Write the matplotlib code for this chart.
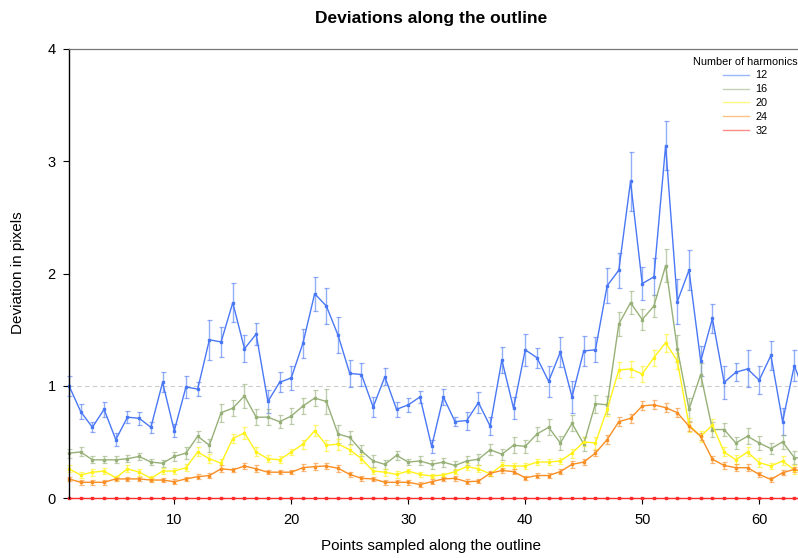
import numpy as np
import matplotlib
matplotlib.use('Agg')
import matplotlib.pyplot as plt
from matplotlib.lines import Line2D

plt.rcParams['font.family'] = ['Liberation Sans', 'DejaVu Sans']

# points along the outline
points = list(range(1, 65))

harmonics = ['12', '16', '20', '24', '32']

dev_12 = [1.00, 0.77, 0.63, 0.79, 0.52, 0.72, 0.71, 0.63, 1.03, 0.60,
          0.99, 0.97, 1.41, 1.39, 1.74, 1.33, 1.46, 0.86, 1.03, 1.07,
          1.38, 1.82, 1.71, 1.45, 1.11, 1.10, 0.81, 1.08, 0.79, 0.83,
          0.90, 0.46, 0.90, 0.68, 0.69, 0.85, 0.64, 1.23, 0.80, 1.32,
          1.25, 1.04, 1.30, 0.90, 1.31, 1.32, 1.89, 2.03, 2.82, 1.91,
          1.97, 3.14, 1.75, 2.03, 1.22, 1.60, 1.03, 1.12, 1.15, 1.05,
          1.27, 0.68, 1.18, 0.90]
err_12 = [0.09, 0.07, 0.045, 0.067, 0.058, 0.055, 0.06, 0.05, 0.09, 0.06,
          0.10, 0.06, 0.18, 0.135, 0.175, 0.12, 0.10, 0.10, 0.09, 0.11,
          0.13, 0.15, 0.16, 0.16, 0.12, 0.10, 0.09, 0.075, 0.065, 0.06,
          0.055, 0.06, 0.075, 0.04, 0.08, 0.09, 0.08, 0.115, 0.10, 0.145,
          0.09, 0.14, 0.13, 0.145, 0.13, 0.11, 0.155, 0.155, 0.26, 0.15,
          0.165, 0.22, 0.20, 0.175, 0.13, 0.13, 0.15, 0.08, 0.165, 0.125,
          0.13, 0.12, 0.14, 0.10]

dev_16 = [0.40, 0.41, 0.34, 0.34, 0.34, 0.35, 0.37, 0.32, 0.31, 0.37,
          0.40, 0.55, 0.47, 0.76, 0.80, 0.91, 0.72, 0.72, 0.68, 0.73,
          0.82, 0.89, 0.86, 0.57, 0.54, 0.42, 0.33, 0.30, 0.38, 0.32,
          0.33, 0.30, 0.32, 0.29, 0.33, 0.345, 0.43, 0.39, 0.47, 0.46,
          0.57, 0.63, 0.49, 0.665, 0.48, 0.84, 0.83, 1.55, 1.74, 1.59,
          1.71, 2.07, 1.33, 0.79, 1.10, 0.61, 0.61, 0.49, 0.55, 0.49,
          0.44, 0.50, 0.36, 0.35]
err_16 = [0.04, 0.04, 0.03, 0.03, 0.03, 0.03, 0.03, 0.03, 0.03, 0.04,
          0.05, 0.05, 0.06, 0.08, 0.07, 0.11, 0.07, 0.07, 0.06, 0.07,
          0.07, 0.07, 0.11, 0.08, 0.06, 0.05, 0.05, 0.04, 0.04, 0.03,
          0.04, 0.04, 0.04, 0.04, 0.04, 0.05, 0.05, 0.05, 0.07, 0.06,
          0.06, 0.07, 0.06, 0.07, 0.06, 0.08, 0.08, 0.11, 0.10, 0.09,
          0.10, 0.15, 0.12, 0.10, 0.10, 0.07, 0.06, 0.05, 0.07, 0.06,
          0.05, 0.06, 0.06, 0.05]

dev_20 = [0.26, 0.205, 0.23, 0.24, 0.18, 0.26, 0.23, 0.175, 0.24, 0.24,
          0.27, 0.41, 0.35, 0.31, 0.53, 0.58, 0.41, 0.35, 0.34, 0.41,
          0.48, 0.60, 0.47, 0.48, 0.43, 0.35, 0.24, 0.23, 0.21, 0.24,
          0.21, 0.196, 0.205, 0.235, 0.28, 0.26, 0.215, 0.29, 0.285, 0.285,
          0.32, 0.32, 0.33, 0.40, 0.50, 0.49, 0.79, 1.14, 1.15, 1.105,
          1.25, 1.385, 1.22, 0.65, 0.55, 0.65, 0.41, 0.34, 0.41, 0.315,
          0.285, 0.33, 0.25, 0.23]
err_20 = [0.03, 0.03, 0.03, 0.03, 0.02, 0.03, 0.03, 0.02, 0.03, 0.03,
          0.03, 0.04, 0.04, 0.04, 0.04, 0.05, 0.04, 0.03, 0.03, 0.03,
          0.04, 0.05, 0.05, 0.05, 0.04, 0.04, 0.03, 0.03, 0.03, 0.02,
          0.02, 0.02, 0.02, 0.02, 0.03, 0.03, 0.02, 0.03, 0.03, 0.03,
          0.03, 0.03, 0.03, 0.04, 0.04, 0.05, 0.06, 0.07, 0.07, 0.07,
          0.07, 0.08, 0.07, 0.06, 0.05, 0.05, 0.04, 0.04, 0.04, 0.04,
          0.03, 0.04, 0.04, 0.03]

dev_24 = [0.17, 0.14, 0.14, 0.14, 0.17, 0.17, 0.17, 0.16, 0.16, 0.145,
          0.17, 0.19, 0.20, 0.26, 0.25, 0.285, 0.26, 0.23, 0.23, 0.23,
          0.27, 0.28, 0.285, 0.265, 0.21, 0.175, 0.17, 0.14, 0.14, 0.14,
          0.12, 0.145, 0.17, 0.175, 0.145, 0.15, 0.22, 0.245, 0.235, 0.18,
          0.20, 0.20, 0.235, 0.30, 0.32, 0.40, 0.52, 0.68, 0.71, 0.82,
          0.83, 0.805, 0.76, 0.64, 0.55, 0.345, 0.29, 0.27, 0.27, 0.21,
          0.165, 0.225, 0.255, 0.23]
err_24 = [0.02, 0.02, 0.02, 0.02, 0.02, 0.02, 0.02, 0.02, 0.02, 0.02,
          0.02, 0.02, 0.02, 0.03, 0.02, 0.03, 0.03, 0.02, 0.02, 0.02,
          0.03, 0.03, 0.03, 0.03, 0.02, 0.02, 0.02, 0.02, 0.02, 0.02,
          0.02, 0.02, 0.02, 0.02, 0.02, 0.02, 0.02, 0.02, 0.02, 0.02,
          0.02, 0.02, 0.02, 0.03, 0.03, 0.03, 0.04, 0.04, 0.04, 0.04,
          0.04, 0.04, 0.04, 0.04, 0.03, 0.03, 0.03, 0.03, 0.03, 0.02,
          0.02, 0.02, 0.02, 0.02]

dev_32 = [0.0] * 64
err_32 = [0.004] * 64

series = [dev_12, dev_16, dev_20, dev_24, dev_32]
errors = [err_12, err_16, err_20, err_24, err_32]
colors = ['#4A78F5', '#97B078', '#FFF21A', '#F98E24', '#FF2A2A']

fig = plt.figure(figsize=(7.98, 5.58), dpi=100)
# right edge deliberately beyond the figure -> last point gets cut like in the original
ax = fig.add_axes([69 / 798, 60 / 558, (806 - 69) / 798, (498 - 49) / 558])

ax.axhline(1, color='#CCCCCC', lw=0.8, ls=(0, (4, 3)), zorder=0)

for vals, err, col in zip(series, errors, colors):
    ax.errorbar(points, vals, yerr=err, color=col, lw=1.0, marker='s', ms=2.0,
                ecolor=matplotlib.colors.to_rgba(col, 0.6), elinewidth=1.0,
                capsize=1.8, capthick=0.9, clip_on=False)

ax.set_xlim(1, 64)
ax.set_ylim(0, 4)
ax.set_xticks([10, 20, 30, 40, 50, 60])
ax.set_yticks([0, 1, 2, 3, 4])

for s in ['right', 'bottom']:
    ax.spines[s].set_visible(False)
ax.spines['top'].set_color('#777777')
ax.spines['top'].set_linewidth(0.9)
ax.spines['left'].set_linewidth(1.0)
ax.tick_params(axis='both', direction='out', length=4.5, width=0.8, labelsize=10.5)
ax.tick_params(axis='y', pad=5)
ax.tick_params(axis='x', pad=6)

fig.text(431 / 798, 1 - 18 / 558, 'Deviations along the outline', ha='center', va='center',
         fontsize=12.5, fontweight='bold')
fig.text(431 / 798, 1 - 546 / 558, 'Points sampled along the outline', ha='center', va='center',
         fontsize=11)
fig.text(18 / 798, 1 - 273 / 558, 'Deviation in pixels', ha='center', va='center',
         fontsize=11, rotation=90)

handles = [Line2D([0], [0], color=c, lw=1.0, alpha=0.55) for c in colors]
leg = fig.legend(handles, harmonics, title='Number of harmonics', loc='upper right',
                 bbox_to_anchor=(805 / 798, 1 - 49 / 558), frameon=False, fontsize=7.8,
                 title_fontsize=7.8, handlelength=2.4, handletextpad=0.6, labelspacing=0.36,
                 borderpad=0.2)

fig.savefig('out.png', dpi=100)
